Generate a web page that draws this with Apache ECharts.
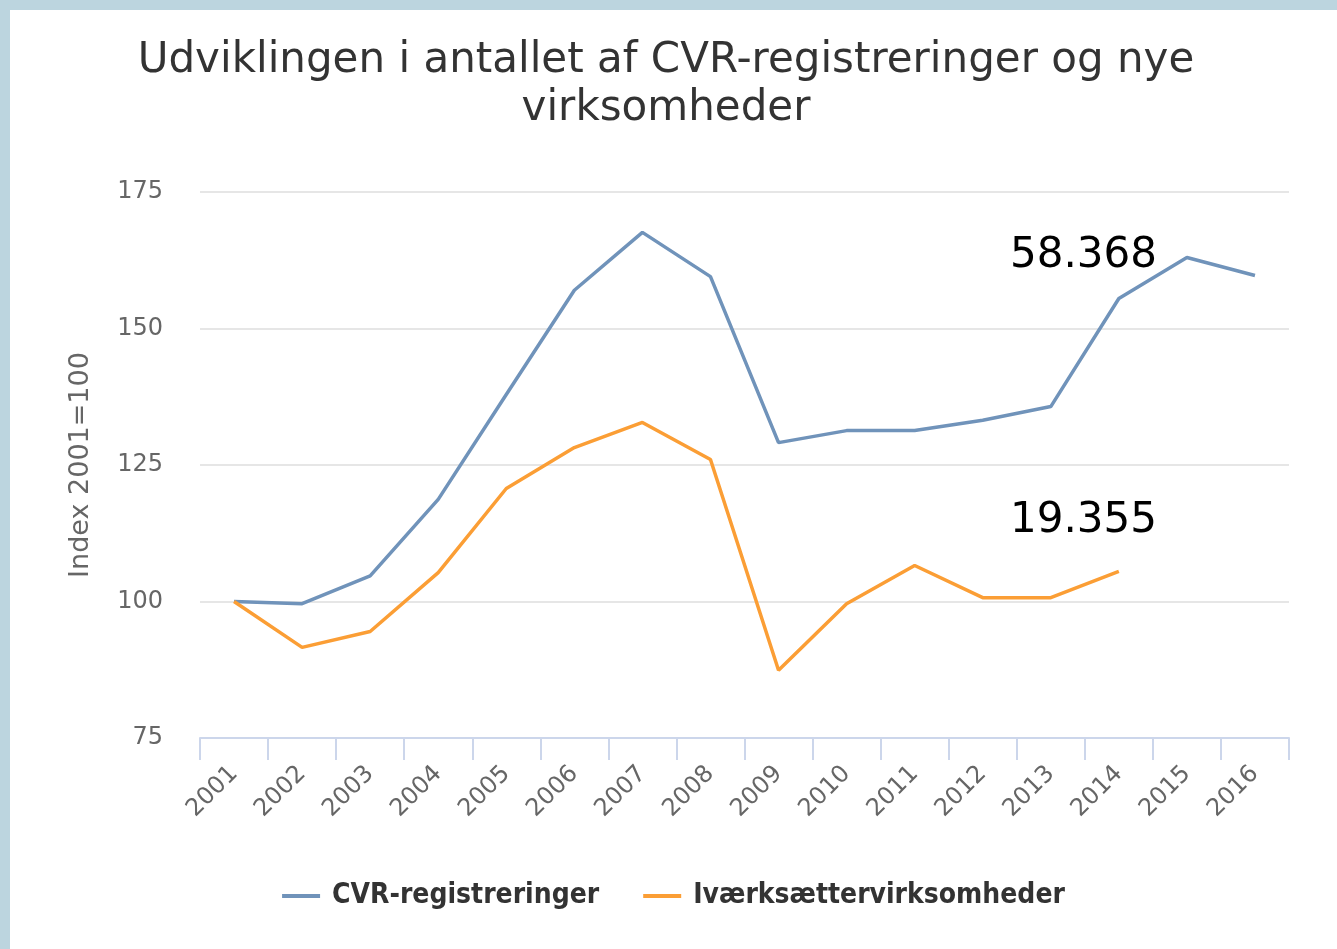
<!DOCTYPE html>
<html>
<head>
<meta charset="utf-8">
<script src="https://cdn.jsdelivr.net/npm/echarts@6/dist/echarts.min.js"></script>
<style>
  html, body { margin: 0; padding: 0; background: #bcd5df; width: 1337px; height: 949px; overflow: hidden; }
  #chart { position: absolute; left: 10px; top: 10px; width: 1327px; height: 939px; background: #ffffff; }
</style>
</head>
<body>
<div id="chart"></div>
<script>
const years = ['2001','2002','2003','2004','2005','2006','2007','2008','2009','2010','2011','2012','2013','2014','2015','2016'];
const cvr = [100, 99.6, 104.7, 118.7, 137.9, 157.0, 167.6, 159.5, 129.1, 131.3, 131.3, 133.2, 135.7, 155.5, 163.0, 159.7];
const ivaerk = [100, 91.6, 94.5, 105.3, 120.7, 128.2, 132.8, 126.0, 87.4, 99.6, 106.6, 100.7, 100.7, 105.5, null, null];
const yTicks = [75, 100, 125, 150, 175];
const seriesNames = ['CVR-registreringer', 'Iværksættervirksomheder'];
const annotations = ['58.368', '19.355'];

const chart = echarts.init(document.getElementById('chart'), null, { renderer: 'canvas' });
const font = '"DejaVu Sans", Verdana, sans-serif';
chart.setOption({
  backgroundColor: '#ffffff',
  animation: false,
  title: {
    text: 'Udviklingen i antallet af CVR-registreringer og nye\nvirksomheder',
    left: 651,
    textAlign: 'center',
    top: 22,
    textStyle: { fontFamily: font, fontSize: 42, fontWeight: 'normal', color: '#333333', lineHeight: 48 }
  },
  legend: {
    bottom: 34,
    left: 'center',
    itemWidth: 38,
    itemHeight: 4,
    itemGap: 44,
    icon: 'rect',
    textStyle: { fontFamily: '"DejaVu Sans Condensed", "DejaVu Sans", sans-serif', fontSize: 28, fontWeight: 'bold', color: '#333333', padding: [0, 0, 0, 7] },
    data: seriesNames
  },
  grid: { left: 190, right: 48, top: 182, bottom: 211 },
  xAxis: {
    type: 'category',
    data: years,
    boundaryGap: true,
    axisLine: { lineStyle: { color: '#ccd6eb', width: 2 } },
    axisTick: { show: true, length: 22, lineStyle: { color: '#ccd6eb', width: 2 } },
    axisLabel: { rotate: 45, fontFamily: font, fontSize: 24, color: '#666666', margin: 32, interval: 0 }
  },
  yAxis: {
    type: 'value',
    min: 75, max: 175, interval: 25,
    name: 'Index 2001=100',
    nameLocation: 'middle',
    nameGap: 106,
    nameRotate: 90,
    nameTextStyle: { fontFamily: font, fontSize: 27, color: '#666666' },
    axisLine: { show: false },
    axisTick: { show: false },
    splitLine: { lineStyle: { color: '#e6e6e6', width: 2 } },
    axisLabel: { fontFamily: font, fontSize: 24, color: '#666666', margin: 37,
      formatter: v => yTicks.includes(v) ? String(v) : '' }
  },
  series: [
    { name: seriesNames[0], type: 'line', data: cvr, symbol: 'none', color: '#7093ba',
      lineStyle: { width: 3.5, color: '#7093ba' } },
    { name: seriesNames[1], type: 'line', data: ivaerk, symbol: 'none', color: '#fb9e35',
      lineStyle: { width: 3.5, color: '#fb9e35' } }
  ],
  graphic: [
    { type: 'text', left: 1000, top: 225, style: { text: annotations[0], fontFamily: font, fontSize: 42, fill: '#000000' } },
    { type: 'text', left: 1000, top: 490, style: { text: annotations[1], fontFamily: font, fontSize: 42, fill: '#000000' } }
  ]
});
</script>
</body>
</html>
